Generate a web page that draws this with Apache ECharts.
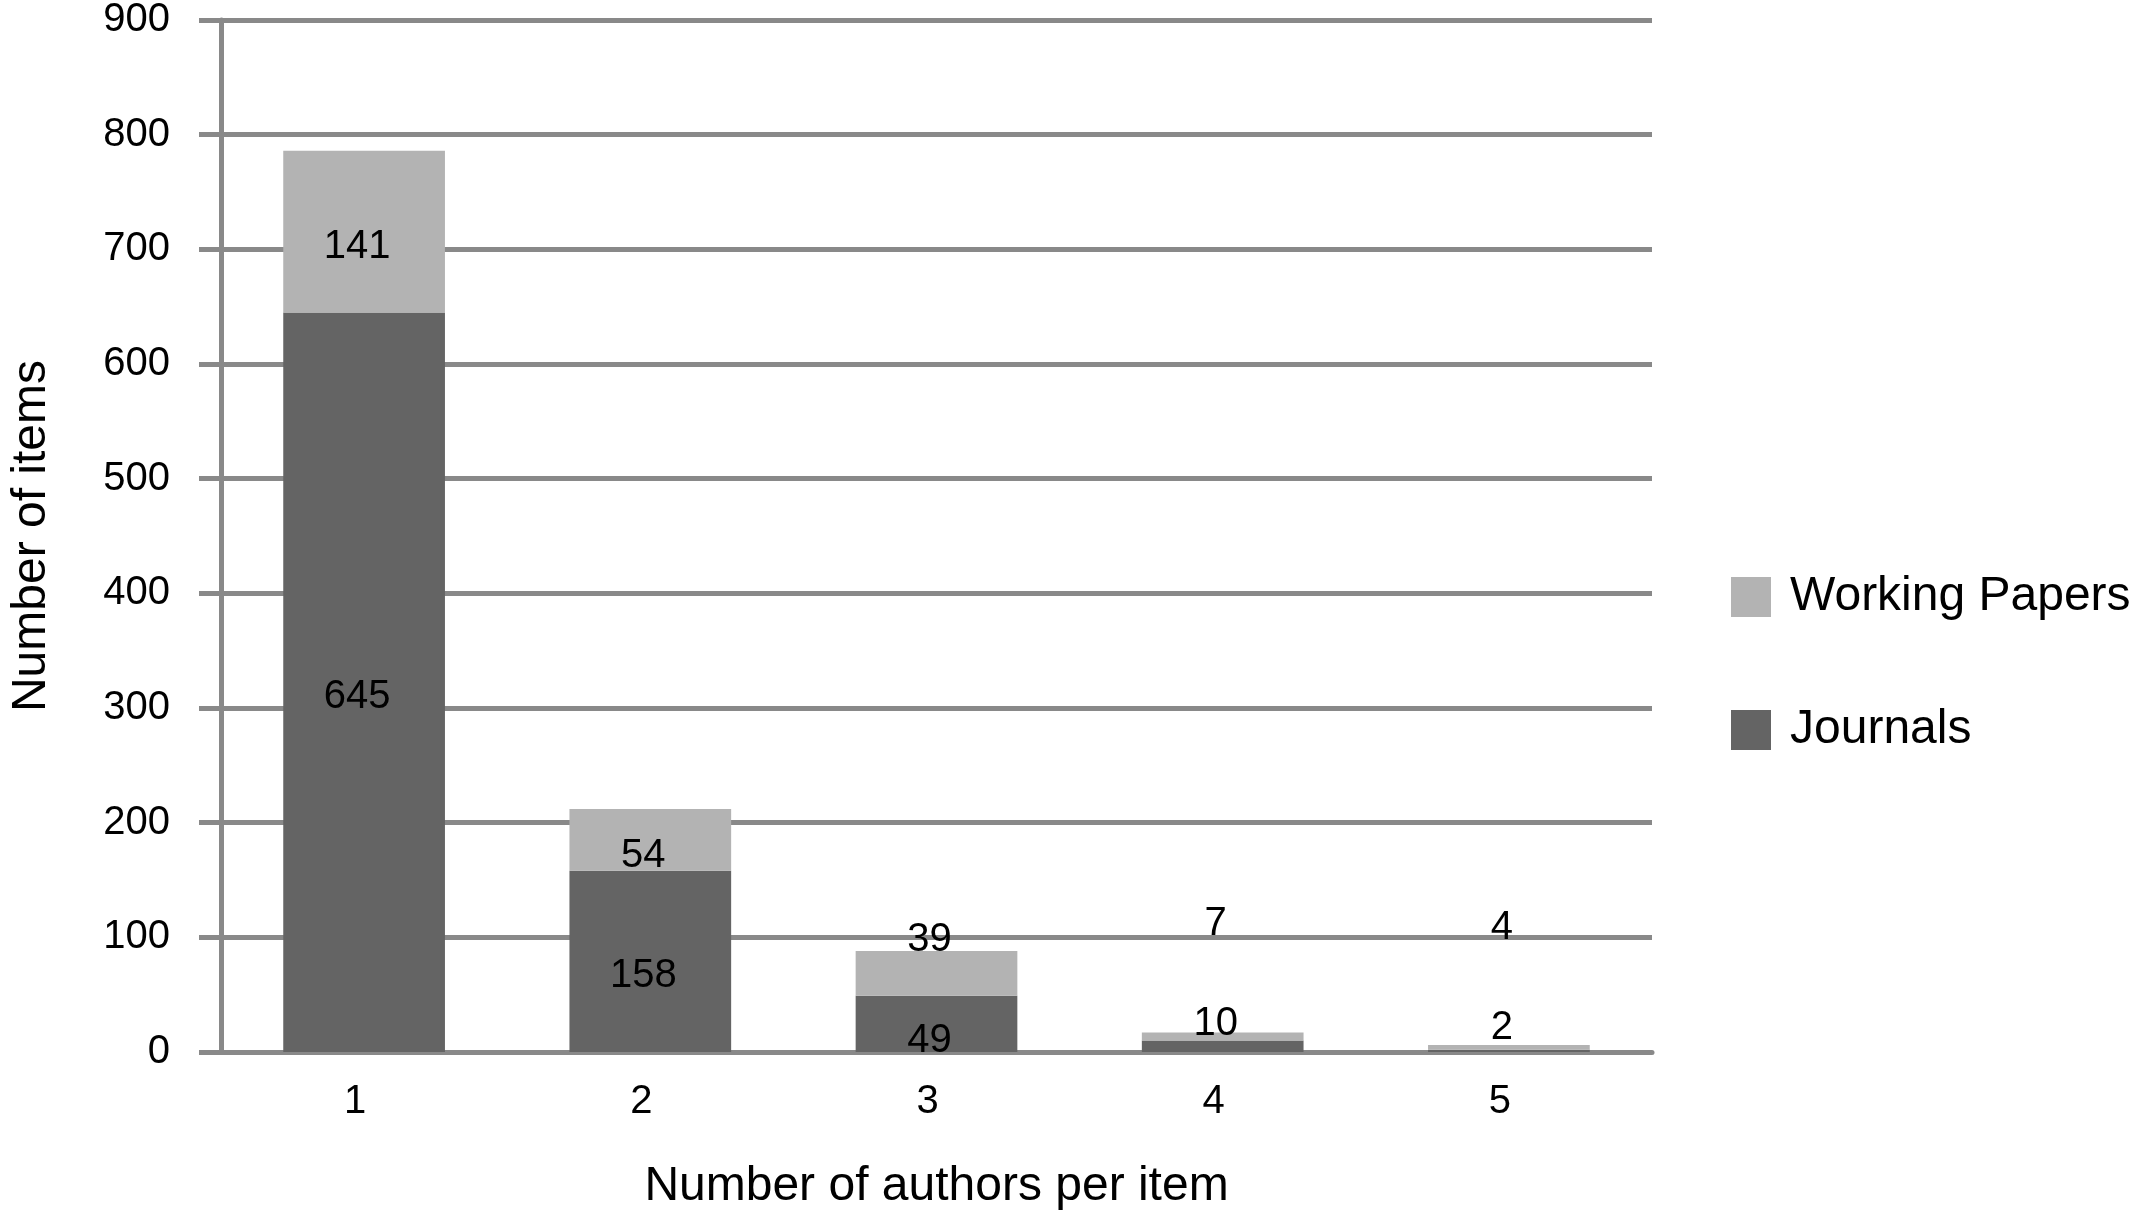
<!DOCTYPE html>
<html>
<head>
<meta charset="utf-8">
<script src="https://cdn.jsdelivr.net/npm/echarts@6/dist/echarts.min.js"></script>
<style>
  html, body { margin: 0; padding: 0; background: #fff; }
  #authors-chart { width: 2136px; height: 1224px; }
</style>
</head>
<body>
<div id="authors-chart"></div>
<script>
var authorCounts = ['1', '2', '3', '4', '5'];
var journals = [645, 158, 49, 10, 2];
var workingPapers = [141, 54, 39, 7, 4];
var yTicks = [0, 100, 200, 300, 400, 500, 600, 700, 800, 900];

// label nudges (px) so the numbers sit where the original placed them
var journalsNudge = [15, 15, 17, -22, -23];
var papersNudge = [15, 16, -33, -113, -119];

var gridColor = '#898989';
var font = 'Liberation Sans, Arial, Helvetica, sans-serif';

function withLabels(values, nudge) {
	var out = [];
	for (var i = 0; i < values.length; i++) {
		out.push({ value: values[i], label: { offset: [-7, nudge[i]] } });
	}
	return out;
}

var option_authors = {
	animation: false,
	backgroundColor: '#fff',
	textStyle: { fontFamily: font, color: '#000' },
	legend: {
		orient: 'vertical',
		left: 1726,
		top: 568,
		itemWidth: 40,
		itemHeight: 40,
		itemGap: 85,
		icon: 'rect',
		textStyle: { fontSize: 48, color: '#000', fontFamily: font, padding: [0, 0, 0, 14] },
		data: ['Working Papers', 'Journals']
	},
	grid: {
		left: 214,
		right: 484,
		top: 17,
		bottom: 172,
		containLabel: false
	},
	xAxis: {
		type: 'category',
		data: authorCounts,
		name: 'Number of authors per item',
		nameLocation: 'middle',
		nameGap: 111,
		nameTextStyle: { fontSize: 48, color: '#000', fontFamily: font },
		axisLine: { show: true, lineStyle: { color: gridColor, width: 5 } },
		axisTick: { show: false },
		axisLabel: { fontSize: 40, color: '#000', margin: 30, padding: [0, 18, 0, 0], fontFamily: font }
	},
	yAxis: {
		type: 'value',
		min: yTicks[0],
		max: yTicks[yTicks.length - 1],
		interval: yTicks[1] - yTicks[0],
		name: 'Number of items',
		nameLocation: 'middle',
		nameGap: 165,
		nameTextStyle: { fontSize: 48, color: '#000', fontFamily: font },
		axisLine: { show: true, lineStyle: { color: gridColor, width: 5 } },
		axisTick: { show: true, length: 22, lineStyle: { color: gridColor, width: 5 } },
		axisLabel: { fontSize: 40, color: '#000', margin: 51, fontFamily: font },
		splitLine: { show: true, lineStyle: { color: gridColor, width: 5 } }
	},
	series: [
		{
			name: 'Journals',
			type: 'bar',
			stack: 'total',
			barWidth: '56.5%',
			itemStyle: { color: '#646464' },
			label: { show: true, position: 'inside', fontSize: 40, color: '#000', fontFamily: font },
			data: withLabels(journals, journalsNudge)
		},
		{
			name: 'Working Papers',
			type: 'bar',
			stack: 'total',
			barWidth: '56.5%',
			itemStyle: { color: '#b3b3b3' },
			label: { show: true, position: 'inside', fontSize: 40, color: '#000', fontFamily: font },
			data: withLabels(workingPapers, papersNudge)
		}
	]
};

var authorsChart = echarts.init(document.getElementById('authors-chart'));
authorsChart.setOption(option_authors);
</script>
</body>
</html>
